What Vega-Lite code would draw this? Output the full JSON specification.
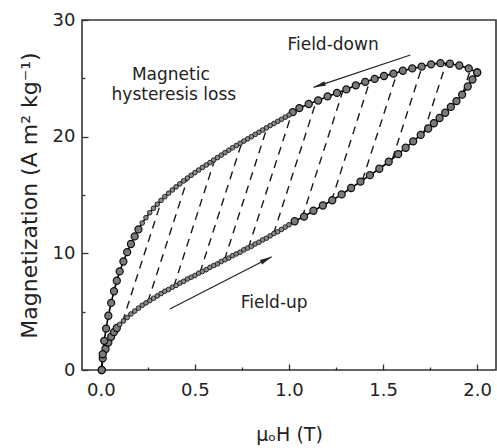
{
  "$schema": "https://vega.github.io/schema/vega-lite/v6.json",
  "width": 414,
  "height": 350,
  "autosize": "none",
  "padding": {"left": 82, "top": 20, "right": 1, "bottom": 78},
  "background": "white",
  "config": {
    "font": "DejaVu Sans",
    "view": {"stroke": "#333", "strokeWidth": 1.6},
    "axis": {"grid": false, "domain": false, "tickColor": "#333", "tickWidth": 1.3, "labelColor": "#222", "labelFontSize": 18, "labelFont": "DejaVu Sans", "titleFont": "DejaVu Sans", "titleColor": "#222", "titleFontWeight": "normal"}
  },
  "datasets": {
    "hatch": [
      {"x": 1.923, "y": 23.7, "x2": 1.963, "y2": 25.7},
      {"x": 1.716, "y": 20.35, "x2": 1.835, "y2": 26.3},
      {"x": 1.55, "y": 18.1, "x2": 1.707, "y2": 26.0},
      {"x": 1.39, "y": 16.26, "x2": 1.574, "y2": 25.45},
      {"x": 1.226, "y": 14.5, "x2": 1.431, "y2": 24.85},
      {"x": 1.07, "y": 13.07, "x2": 1.287, "y2": 23.95},
      {"x": 0.918, "y": 11.68, "x2": 1.144, "y2": 23.0},
      {"x": 0.784, "y": 10.47, "x2": 1.016, "y2": 22.05},
      {"x": 0.657, "y": 9.44, "x2": 0.883, "y2": 20.76},
      {"x": 0.527, "y": 8.36, "x2": 0.75, "y2": 19.53},
      {"x": 0.388, "y": 7.16, "x2": 0.606, "y2": 18.06},
      {"x": 0.25, "y": 5.85, "x2": 0.463, "y2": 16.5},
      {"x": 0.115, "y": 4.13, "x2": 0.324, "y2": 14.6}
    ],
    "loop": [
      {"b": "u", "d": 0, "x": 0.005, "y": 0.0},
      {"b": "u", "d": 0, "x": 0.01, "y": 1.0},
      {"b": "u", "d": 0, "x": 0.025, "y": 1.8},
      {"b": "u", "d": 0, "x": 0.04, "y": 2.35},
      {"b": "u", "d": 0, "x": 0.055, "y": 2.85},
      {"b": "u", "d": 0, "x": 0.07, "y": 3.25},
      {"b": "u", "d": 0, "x": 0.085, "y": 3.6},
      {"b": "u", "d": 1, "x": 0.10, "y": 3.9},
      {"b": "u", "d": 1, "x": 0.12, "y": 4.2},
      {"b": "u", "d": 1, "x": 0.14, "y": 4.5},
      {"b": "u", "d": 1, "x": 0.16, "y": 4.8},
      {"b": "u", "d": 1, "x": 0.18, "y": 5.05},
      {"b": "u", "d": 1, "x": 0.20, "y": 5.3},
      {"b": "u", "d": 1, "x": 0.22, "y": 5.55},
      {"b": "u", "d": 1, "x": 0.24, "y": 5.75},
      {"b": "u", "d": 1, "x": 0.26, "y": 5.95},
      {"b": "u", "d": 1, "x": 0.28, "y": 6.15},
      {"b": "u", "d": 1, "x": 0.30, "y": 6.35},
      {"b": "u", "d": 1, "x": 0.32, "y": 6.55},
      {"b": "u", "d": 1, "x": 0.34, "y": 6.75},
      {"b": "u", "d": 1, "x": 0.36, "y": 6.9},
      {"b": "u", "d": 1, "x": 0.38, "y": 7.1},
      {"b": "u", "d": 1, "x": 0.40, "y": 7.25},
      {"b": "u", "d": 1, "x": 0.42, "y": 7.45},
      {"b": "u", "d": 1, "x": 0.44, "y": 7.6},
      {"b": "u", "d": 1, "x": 0.46, "y": 7.8},
      {"b": "u", "d": 1, "x": 0.48, "y": 7.95},
      {"b": "u", "d": 1, "x": 0.50, "y": 8.1},
      {"b": "u", "d": 1, "x": 0.52, "y": 8.3},
      {"b": "u", "d": 1, "x": 0.54, "y": 8.45},
      {"b": "u", "d": 1, "x": 0.56, "y": 8.6},
      {"b": "u", "d": 1, "x": 0.58, "y": 8.8},
      {"b": "u", "d": 1, "x": 0.60, "y": 8.95},
      {"b": "u", "d": 1, "x": 0.62, "y": 9.1},
      {"b": "u", "d": 1, "x": 0.64, "y": 9.3},
      {"b": "u", "d": 1, "x": 0.66, "y": 9.45},
      {"b": "u", "d": 1, "x": 0.68, "y": 9.6},
      {"b": "u", "d": 1, "x": 0.70, "y": 9.8},
      {"b": "u", "d": 1, "x": 0.72, "y": 9.95},
      {"b": "u", "d": 1, "x": 0.74, "y": 10.1},
      {"b": "u", "d": 1, "x": 0.76, "y": 10.3},
      {"b": "u", "d": 1, "x": 0.78, "y": 10.45},
      {"b": "u", "d": 1, "x": 0.80, "y": 10.6},
      {"b": "u", "d": 1, "x": 0.82, "y": 10.8},
      {"b": "u", "d": 1, "x": 0.84, "y": 10.95},
      {"b": "u", "d": 1, "x": 0.86, "y": 11.15},
      {"b": "u", "d": 1, "x": 0.88, "y": 11.3},
      {"b": "u", "d": 1, "x": 0.90, "y": 11.5},
      {"b": "u", "d": 1, "x": 0.92, "y": 11.7},
      {"b": "u", "d": 1, "x": 0.94, "y": 11.85},
      {"b": "u", "d": 1, "x": 0.96, "y": 12.05},
      {"b": "u", "d": 1, "x": 0.98, "y": 12.25},
      {"b": "u", "d": 1, "x": 1.00, "y": 12.45},
      {"b": "u", "d": 0, "x": 1.03, "y": 12.75},
      {"b": "u", "d": 0, "x": 1.08, "y": 13.15},
      {"b": "u", "d": 0, "x": 1.13, "y": 13.65},
      {"b": "u", "d": 0, "x": 1.18, "y": 14.1},
      {"b": "u", "d": 0, "x": 1.23, "y": 14.55},
      {"b": "u", "d": 0, "x": 1.28, "y": 15.05},
      {"b": "u", "d": 0, "x": 1.33, "y": 15.6},
      {"b": "u", "d": 0, "x": 1.38, "y": 16.15},
      {"b": "u", "d": 0, "x": 1.43, "y": 16.7},
      {"b": "u", "d": 0, "x": 1.48, "y": 17.25},
      {"b": "u", "d": 0, "x": 1.53, "y": 17.85},
      {"b": "u", "d": 0, "x": 1.58, "y": 18.5},
      {"b": "u", "d": 0, "x": 1.62, "y": 19.05},
      {"b": "u", "d": 0, "x": 1.66, "y": 19.6},
      {"b": "u", "d": 0, "x": 1.70, "y": 20.15},
      {"b": "u", "d": 0, "x": 1.74, "y": 20.7},
      {"b": "u", "d": 0, "x": 1.77, "y": 21.15},
      {"b": "u", "d": 0, "x": 1.80, "y": 21.6},
      {"b": "u", "d": 0, "x": 1.83, "y": 22.05},
      {"b": "u", "d": 0, "x": 1.86, "y": 22.55},
      {"b": "u", "d": 0, "x": 1.89, "y": 23.05},
      {"b": "u", "d": 0, "x": 1.92, "y": 23.6},
      {"b": "u", "d": 0, "x": 1.95, "y": 24.3},
      {"b": "u", "d": 0, "x": 1.975, "y": 24.9},
      {"b": "u", "d": 0, "x": 2.0, "y": 25.5},
      {"b": "d", "d": 0, "x": 2.0, "y": 25.5},
      {"b": "d", "d": 0, "x": 1.955, "y": 25.85},
      {"b": "d", "d": 0, "x": 1.905, "y": 26.1},
      {"b": "d", "d": 0, "x": 1.855, "y": 26.25},
      {"b": "d", "d": 0, "x": 1.805, "y": 26.3},
      {"b": "d", "d": 0, "x": 1.755, "y": 26.2},
      {"b": "d", "d": 0, "x": 1.705, "y": 26.0},
      {"b": "d", "d": 0, "x": 1.655, "y": 25.85},
      {"b": "d", "d": 0, "x": 1.605, "y": 25.65},
      {"b": "d", "d": 0, "x": 1.555, "y": 25.4},
      {"b": "d", "d": 0, "x": 1.505, "y": 25.2},
      {"b": "d", "d": 0, "x": 1.455, "y": 24.95},
      {"b": "d", "d": 0, "x": 1.405, "y": 24.7},
      {"b": "d", "d": 0, "x": 1.355, "y": 24.4},
      {"b": "d", "d": 0, "x": 1.305, "y": 24.05},
      {"b": "d", "d": 0, "x": 1.255, "y": 23.75},
      {"b": "d", "d": 0, "x": 1.205, "y": 23.45},
      {"b": "d", "d": 0, "x": 1.155, "y": 23.1},
      {"b": "d", "d": 0, "x": 1.105, "y": 22.8},
      {"b": "d", "d": 0, "x": 1.055, "y": 22.45},
      {"b": "d", "d": 0, "x": 1.02, "y": 22.1},
      {"b": "d", "d": 1, "x": 1.00, "y": 21.85},
      {"b": "d", "d": 1, "x": 0.98, "y": 21.67},
      {"b": "d", "d": 1, "x": 0.96, "y": 21.49},
      {"b": "d", "d": 1, "x": 0.94, "y": 21.31},
      {"b": "d", "d": 1, "x": 0.92, "y": 21.13},
      {"b": "d", "d": 1, "x": 0.90, "y": 20.95},
      {"b": "d", "d": 1, "x": 0.88, "y": 20.76},
      {"b": "d", "d": 1, "x": 0.86, "y": 20.57},
      {"b": "d", "d": 1, "x": 0.84, "y": 20.38},
      {"b": "d", "d": 1, "x": 0.82, "y": 20.19},
      {"b": "d", "d": 1, "x": 0.80, "y": 20.0},
      {"b": "d", "d": 1, "x": 0.78, "y": 19.81},
      {"b": "d", "d": 1, "x": 0.76, "y": 19.62},
      {"b": "d", "d": 1, "x": 0.74, "y": 19.43},
      {"b": "d", "d": 1, "x": 0.72, "y": 19.24},
      {"b": "d", "d": 1, "x": 0.70, "y": 19.05},
      {"b": "d", "d": 1, "x": 0.68, "y": 18.84},
      {"b": "d", "d": 1, "x": 0.66, "y": 18.63},
      {"b": "d", "d": 1, "x": 0.64, "y": 18.42},
      {"b": "d", "d": 1, "x": 0.62, "y": 18.21},
      {"b": "d", "d": 1, "x": 0.60, "y": 18.0},
      {"b": "d", "d": 1, "x": 0.58, "y": 17.78},
      {"b": "d", "d": 1, "x": 0.56, "y": 17.57},
      {"b": "d", "d": 1, "x": 0.54, "y": 17.36},
      {"b": "d", "d": 1, "x": 0.52, "y": 17.14},
      {"b": "d", "d": 1, "x": 0.50, "y": 16.92},
      {"b": "d", "d": 1, "x": 0.48, "y": 16.69},
      {"b": "d", "d": 1, "x": 0.46, "y": 16.45},
      {"b": "d", "d": 1, "x": 0.44, "y": 16.21},
      {"b": "d", "d": 1, "x": 0.42, "y": 15.96},
      {"b": "d", "d": 1, "x": 0.40, "y": 15.7},
      {"b": "d", "d": 1, "x": 0.38, "y": 15.43},
      {"b": "d", "d": 1, "x": 0.36, "y": 15.15},
      {"b": "d", "d": 1, "x": 0.34, "y": 14.85},
      {"b": "d", "d": 1, "x": 0.32, "y": 14.54},
      {"b": "d", "d": 1, "x": 0.30, "y": 14.21},
      {"b": "d", "d": 1, "x": 0.28, "y": 13.86},
      {"b": "d", "d": 1, "x": 0.26, "y": 13.48},
      {"b": "d", "d": 1, "x": 0.24, "y": 13.06},
      {"b": "d", "d": 1, "x": 0.22, "y": 12.6},
      {"b": "d", "d": 0, "x": 0.20, "y": 12.05},
      {"b": "d", "d": 0, "x": 0.18, "y": 11.45},
      {"b": "d", "d": 0, "x": 0.16, "y": 10.8},
      {"b": "d", "d": 0, "x": 0.14, "y": 10.1},
      {"b": "d", "d": 0, "x": 0.12, "y": 9.3},
      {"b": "d", "d": 0, "x": 0.10, "y": 8.45},
      {"b": "d", "d": 0, "x": 0.085, "y": 7.65},
      {"b": "d", "d": 0, "x": 0.07, "y": 6.75},
      {"b": "d", "d": 0, "x": 0.055, "y": 5.75},
      {"b": "d", "d": 0, "x": 0.04, "y": 4.65},
      {"b": "d", "d": 0, "x": 0.028, "y": 3.55},
      {"b": "d", "d": 0, "x": 0.018, "y": 2.5},
      {"b": "d", "d": 0, "x": 0.01, "y": 1.35},
      {"b": "d", "d": 0, "x": 0.005, "y": 0.0}
    ],
    "arrows": [
      {"x": 1.645, "y": 27.0, "x2": 1.131, "y2": 24.23},
      {"x": 0.367, "y": 5.23, "x2": 0.908, "y2": 9.71}
    ],
    "heads": [
      {"dir": "down", "x": 1.131, "y": 24.23},
      {"dir": "up", "x": 0.908, "y": 9.71}
    ],
    "labels": [
      {"t": "Magnetic", "x": 0.372, "y": 24.86},
      {"t": "hysteresis loss", "x": 0.388, "y": 23.14},
      {"t": "Field-down", "x": 1.234, "y": 27.43},
      {"t": "Field-up", "x": 0.921, "y": 5.31}
    ]
  },
  "resolve": {"axis": {"x": "independent", "y": "independent"}},
  "encoding": {
    "x": {"field": "x", "type": "quantitative", "scale": {"domain": [-0.1, 2.1], "nice": false, "zero": false}, "axis": null},
    "y": {"field": "y", "type": "quantitative", "scale": {"domain": [0, 30], "nice": false, "zero": false}, "axis": null}
  },
  "layer": [
    {
      "data": {"name": "hatch"},
      "mark": {"type": "rule", "strokeDash": [8, 6], "strokeWidth": 1.4, "color": "#1a1a1a"},
      "encoding": {
        "x": {"field": "x", "type": "quantitative", "scale": {"domain": [-0.1, 2.1], "nice": false, "zero": false},
          "axis": {"orient": "bottom", "values": [0, 0.5, 1, 1.5, 2], "format": ".1f", "tickSize": -6, "labelPadding": 17, "title": "μₒH (T)", "titleFontSize": 19, "titlePadding": 26}},
        "y": {"field": "y", "type": "quantitative", "scale": {"domain": [0, 30], "nice": false, "zero": false},
          "axis": {"orient": "left", "values": [0, 10, 20, 30], "tickSize": -6, "labelPadding": 13, "title": "Magnetization (A m² kg⁻¹)", "titleFontSize": 22, "titlePadding": 11}},
        "x2": {"field": "x2"},
        "y2": {"field": "y2"}
      }
    },
    {
      "data": {"name": "loop"},
      "mark": {"type": "line", "color": "#000", "strokeWidth": 1.6},
      "encoding": {
        "x": {"field": "x", "type": "quantitative", "scale": {"domain": [-0.1, 2.1], "nice": false, "zero": false},
          "axis": {"orient": "bottom", "values": [0.25, 0.75, 1.25, 1.75], "tickSize": -3, "labels": false, "title": null}},
        "y": {"field": "y", "type": "quantitative", "scale": {"domain": [0, 30], "nice": false, "zero": false},
          "axis": {"orient": "left", "values": [5, 15, 25], "tickSize": -3, "labels": false, "title": null}},
        "detail": {"field": "b"}
      }
    },
    {
      "data": {"name": "loop"},
      "transform": [{"filter": "datum.d == 0"}],
      "mark": {"type": "point", "shape": "circle", "filled": true, "size": 50, "fill": "#7a7a7a", "stroke": "#0d0d0d", "strokeWidth": 1.2, "opacity": 1}
    },
    {
      "data": {"name": "loop"},
      "transform": [{"filter": "datum.d == 1"}],
      "mark": {"type": "point", "shape": "circle", "filled": true, "size": 22, "fill": "#8a8a8a", "stroke": "#1a1a1a", "strokeWidth": 0.9, "opacity": 1}
    },
    {
      "data": {"name": "arrows"},
      "mark": {"type": "rule", "color": "#222", "strokeWidth": 1.2},
      "encoding": {"x2": {"field": "x2"}, "y2": {"field": "y2"}}
    },
    {
      "data": {"name": "heads"},
      "transform": [{"filter": "datum.dir == 'down'"}],
      "mark": {"type": "point", "shape": "M0,0L-0.45,2.2L0.45,2.2Z", "size": 120, "filled": true, "fill": "#222", "strokeWidth": 0, "opacity": 1, "angle": 251.5}
    },
    {
      "data": {"name": "heads"},
      "transform": [{"filter": "datum.dir == 'up'"}],
      "mark": {"type": "point", "shape": "M0,0L-0.45,2.2L0.45,2.2Z", "size": 120, "filled": true, "fill": "#222", "strokeWidth": 0, "opacity": 1, "angle": 62.9}
    },
    {
      "data": {"name": "labels"},
      "mark": {"type": "text", "font": "DejaVu Sans", "fontSize": 17, "color": "#222", "align": "center", "baseline": "alphabetic"},
      "encoding": {"text": {"field": "t"}}
    }
  ]
}
